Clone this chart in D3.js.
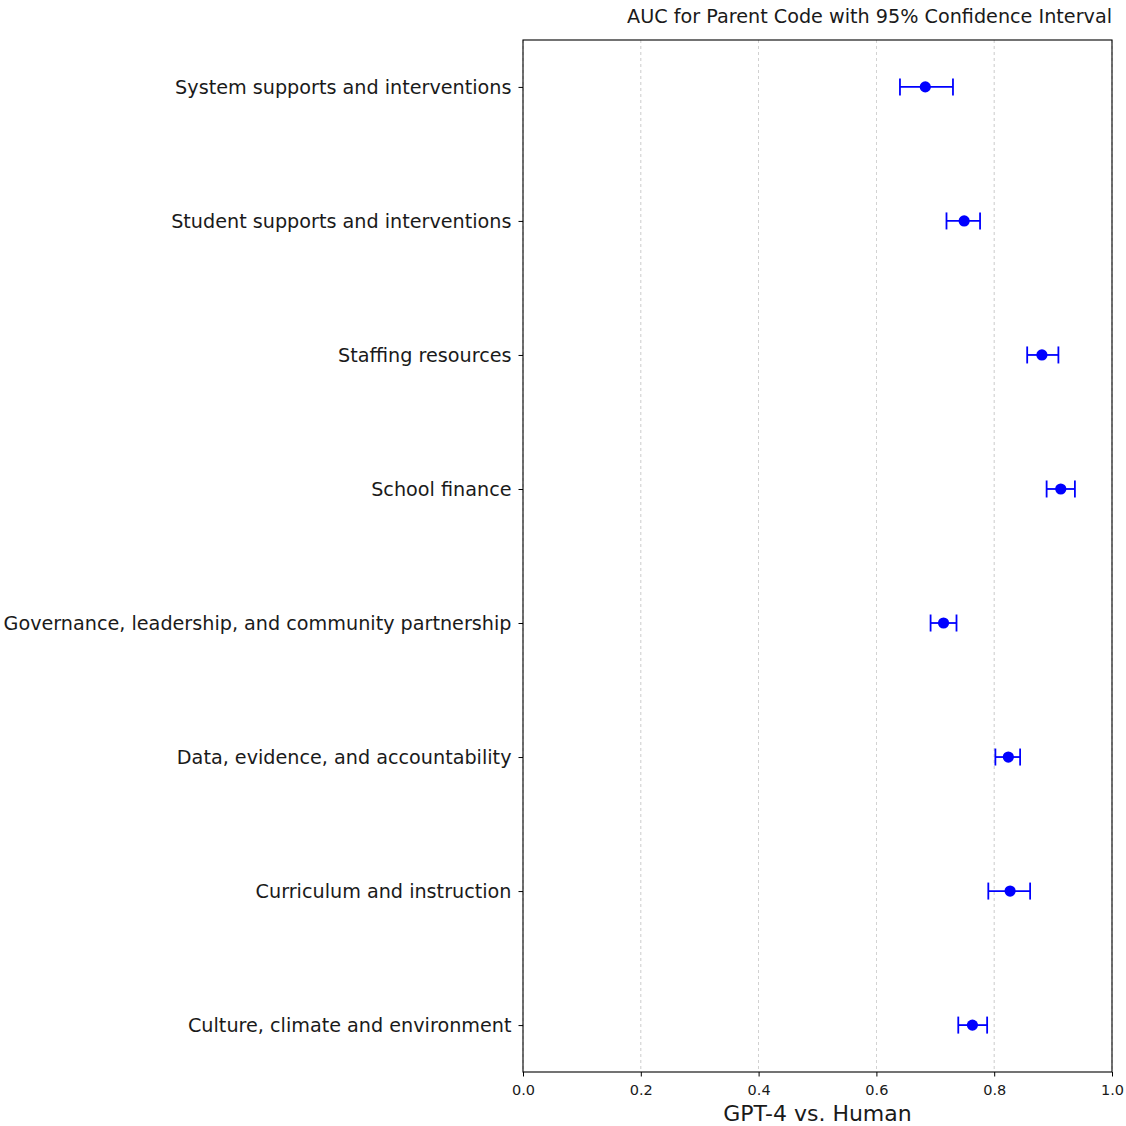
<!DOCTYPE html>
<html>
<head>
<meta charset="utf-8">
<script src="https://cdn.jsdelivr.net/npm/d3@7"></script>
<style>
  body { margin: 0; background: #fff; }
  text { font-family: "DejaVu Sans", sans-serif; fill: #1a1a1a; }
</style>
</head>
<body>
<svg id="chart" width="1126" height="1126"></svg>
<script>
// parent codes, top to bottom
const codes = [
  "System supports and interventions",
  "Student supports and interventions",
  "Staffing resources",
  "School finance",
  "Governance, leadership, and community partnership",
  "Data, evidence, and accountability",
  "Curriculum and instruction",
  "Culture, climate and environment"
];
const auc   = [0.683, 0.749, 0.881, 0.913, 0.714, 0.824, 0.827, 0.763];
const ciLow = [0.640, 0.719, 0.856, 0.889, 0.692, 0.802, 0.790, 0.739];
const ciHigh= [0.730, 0.776, 0.909, 0.937, 0.736, 0.844, 0.861, 0.788];
const xTicks = [0, 0.2, 0.4, 0.6, 0.8, 1.0];

const mLeft = 523, mRight = 1112, mTop = 40, mBottom = 1072;
const svg = d3.select("#chart");

const x = d3.scaleLinear().domain([0, 1]).range([mLeft, mRight]);
// index 0 at top; matplotlib-style 5% margins on the category axis
const y = d3.scaleLinear().domain([-0.35, codes.length - 1 + 0.35]).range([mTop, mBottom]);

// grid
svg.append("g").selectAll("line")
  .data(xTicks)
  .join("line")
  .attr("x1", d => x(d)).attr("x2", d => x(d))
  .attr("y1", mTop).attr("y2", mBottom)
  .attr("stroke", "#b0b0b0")
  .attr("stroke-width", 0.8)
  .attr("stroke-dasharray", "3,3")
  .attr("opacity", 0.8);

// x axis
const xAxis = svg.append("g")
  .attr("transform", `translate(0,${mBottom})`)
  .call(d3.axisBottom(x).tickValues(xTicks).tickFormat(d3.format(".1f")).tickSize(4.5).tickPadding(8.5));
xAxis.select(".domain").remove();
xAxis.selectAll("line").attr("stroke", "#000").attr("stroke-width", 1);
xAxis.selectAll("text").style("font-size", "14.5px").style("font-family", "DejaVu Sans");

// y axis
const yAxis = svg.append("g")
  .attr("transform", `translate(${mLeft},0)`)
  .call(d3.axisLeft(y).tickValues(d3.range(codes.length)).tickFormat(i => codes[i]).tickSize(4.5).tickPadding(7));
yAxis.select(".domain").remove();
yAxis.selectAll("line").attr("stroke", "#000").attr("stroke-width", 1);
yAxis.selectAll("text").style("font-size", "19.2px").style("font-family", "DejaVu Sans");

// frame
svg.append("rect")
  .attr("x", mLeft).attr("y", mTop)
  .attr("width", mRight - mLeft).attr("height", mBottom - mTop)
  .attr("fill", "none").attr("stroke", "#000").attr("stroke-width", 1.1);

// error bars
const eb = svg.append("g").selectAll("g")
  .data(codes.map((c, i) => ({ i, v: auc[i], lo: ciLow[i], hi: ciHigh[i] })))
  .join("g")
  .attr("stroke", "#0000ff")
  .attr("stroke-width", 1.8);
eb.append("line")
  .attr("x1", d => x(d.lo)).attr("x2", d => x(d.hi))
  .attr("y1", d => y(d.i)).attr("y2", d => y(d.i));
eb.append("line")
  .attr("x1", d => x(d.lo)).attr("x2", d => x(d.lo))
  .attr("y1", d => y(d.i) - 8.5).attr("y2", d => y(d.i) + 8.5);
eb.append("line")
  .attr("x1", d => x(d.hi)).attr("x2", d => x(d.hi))
  .attr("y1", d => y(d.i) - 8.5).attr("y2", d => y(d.i) + 8.5);
eb.append("circle")
  .attr("cx", d => x(d.v)).attr("cy", d => y(d.i))
  .attr("r", 5.6).attr("fill", "#0000ff").attr("stroke", "none");

// title (right aligned) and x label
svg.append("text")
  .attr("x", mRight).attr("y", 23)
  .attr("text-anchor", "end")
  .style("font-size", "19.2px")
  .text("AUC for Parent Code with 95% Confidence Interval");

svg.append("text")
  .attr("x", (mLeft + mRight) / 2).attr("y", 1120.5)
  .attr("text-anchor", "middle")
  .style("font-size", "22px")
  .text("GPT-4 vs. Human");
</script>
</body>
</html>
